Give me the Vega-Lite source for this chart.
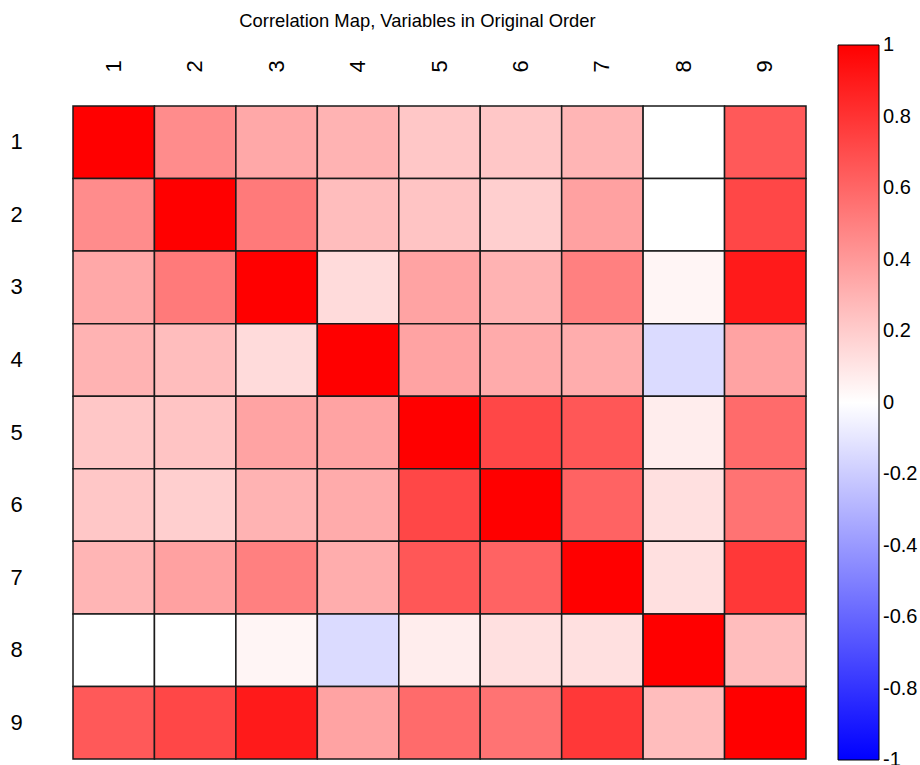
{
  "$schema": "https://vega.github.io/schema/vega-lite/v6.json",
  "width": 733,
  "height": 653,
  "autosize": {"type": "none"},
  "padding": {"left": 73, "top": 106, "right": 114, "bottom": 6},
  "background": "white",
  "title": {
    "text": "Correlation Map, Variables in Original Order",
    "fontSize": 18.4,
    "fontWeight": "normal",
    "font": "Liberation Sans",
    "color": "black",
    "frame": "group",
    "anchor": "middle",
    "baseline": "alphabetic",
    "offset": 0,
    "dx": -22
  },
  "data": {
    "values": [
      {"row": 1, "col": 1, "r": 1}, {"row": 1, "col": 2, "r": 0.45}, {"row": 1, "col": 3, "r": 0.34}, {"row": 1, "col": 4, "r": 0.30}, {"row": 1, "col": 5, "r": 0.22}, {"row": 1, "col": 6, "r": 0.22}, {"row": 1, "col": 7, "r": 0.29}, {"row": 1, "col": 8, "r": 0.0}, {"row": 1, "col": 9, "r": 0.65},
      {"row": 2, "col": 1, "r": 0.45}, {"row": 2, "col": 2, "r": 1}, {"row": 2, "col": 3, "r": 0.52}, {"row": 2, "col": 4, "r": 0.26}, {"row": 2, "col": 5, "r": 0.23}, {"row": 2, "col": 6, "r": 0.19}, {"row": 2, "col": 7, "r": 0.37}, {"row": 2, "col": 8, "r": 0.0}, {"row": 2, "col": 9, "r": 0.72},
      {"row": 3, "col": 1, "r": 0.34}, {"row": 3, "col": 2, "r": 0.52}, {"row": 3, "col": 3, "r": 1}, {"row": 3, "col": 4, "r": 0.14}, {"row": 3, "col": 5, "r": 0.36}, {"row": 3, "col": 6, "r": 0.30}, {"row": 3, "col": 7, "r": 0.50}, {"row": 3, "col": 8, "r": 0.04}, {"row": 3, "col": 9, "r": 0.90},
      {"row": 4, "col": 1, "r": 0.30}, {"row": 4, "col": 2, "r": 0.26}, {"row": 4, "col": 3, "r": 0.14}, {"row": 4, "col": 4, "r": 1}, {"row": 4, "col": 5, "r": 0.36}, {"row": 4, "col": 6, "r": 0.33}, {"row": 4, "col": 7, "r": 0.32}, {"row": 4, "col": 8, "r": -0.14}, {"row": 4, "col": 9, "r": 0.36},
      {"row": 5, "col": 1, "r": 0.22}, {"row": 5, "col": 2, "r": 0.23}, {"row": 5, "col": 3, "r": 0.36}, {"row": 5, "col": 4, "r": 0.36}, {"row": 5, "col": 5, "r": 1}, {"row": 5, "col": 6, "r": 0.72}, {"row": 5, "col": 7, "r": 0.66}, {"row": 5, "col": 8, "r": 0.07}, {"row": 5, "col": 9, "r": 0.58},
      {"row": 6, "col": 1, "r": 0.22}, {"row": 6, "col": 2, "r": 0.19}, {"row": 6, "col": 3, "r": 0.30}, {"row": 6, "col": 4, "r": 0.33}, {"row": 6, "col": 5, "r": 0.72}, {"row": 6, "col": 6, "r": 1}, {"row": 6, "col": 7, "r": 0.61}, {"row": 6, "col": 8, "r": 0.12}, {"row": 6, "col": 9, "r": 0.55},
      {"row": 7, "col": 1, "r": 0.29}, {"row": 7, "col": 2, "r": 0.37}, {"row": 7, "col": 3, "r": 0.50}, {"row": 7, "col": 4, "r": 0.32}, {"row": 7, "col": 5, "r": 0.66}, {"row": 7, "col": 6, "r": 0.61}, {"row": 7, "col": 7, "r": 1}, {"row": 7, "col": 8, "r": 0.12}, {"row": 7, "col": 9, "r": 0.78},
      {"row": 8, "col": 1, "r": 0.0}, {"row": 8, "col": 2, "r": 0.0}, {"row": 8, "col": 3, "r": 0.04}, {"row": 8, "col": 4, "r": -0.14}, {"row": 8, "col": 5, "r": 0.07}, {"row": 8, "col": 6, "r": 0.12}, {"row": 8, "col": 7, "r": 0.12}, {"row": 8, "col": 8, "r": 1}, {"row": 8, "col": 9, "r": 0.26},
      {"row": 9, "col": 1, "r": 0.65}, {"row": 9, "col": 2, "r": 0.72}, {"row": 9, "col": 3, "r": 0.90}, {"row": 9, "col": 4, "r": 0.36}, {"row": 9, "col": 5, "r": 0.58}, {"row": 9, "col": 6, "r": 0.55}, {"row": 9, "col": 7, "r": 0.78}, {"row": 9, "col": 8, "r": 0.26}, {"row": 9, "col": 9, "r": 1}
    ]
  },
  "mark": {"type": "rect", "stroke": "#1a1a1a", "strokeWidth": 1.5},
  "encoding": {
    "x": {
      "field": "col",
      "type": "ordinal",
      "scale": {"paddingInner": 0, "paddingOuter": 0},
      "axis": {
        "orient": "top",
        "labelAngle": -90,
        "labelPadding": 34,
        "ticks": false,
        "domain": false,
        "grid": false,
        "title": null,
        "labelFontSize": 22,
        "labelColor": "black",
        "labelFont": "Liberation Sans"
      }
    },
    "y": {
      "field": "row",
      "type": "ordinal",
      "scale": {"paddingInner": 0, "paddingOuter": 0},
      "axis": {
        "orient": "left",
        "labelPadding": 57,
        "labelAlign": "center",
        "ticks": false,
        "domain": false,
        "grid": false,
        "title": null,
        "labelFontSize": 22,
        "labelColor": "black",
        "labelFont": "Liberation Sans"
      }
    },
    "color": {
      "field": "r",
      "type": "quantitative",
      "scale": {"domain": [-1, 0, 1], "range": ["#0000ff", "#ffffff", "#ff0000"], "interpolate": "rgb"},
      "legend": {
        "orient": "none",
        "legendX": 765,
        "legendY": -61,
        "direction": "vertical",
        "gradientLength": 715,
        "gradientThickness": 41,
        "gradientStrokeColor": "black",
        "gradientStrokeWidth": 1,
        "title": null,
        "padding": 0,
        "values": [-1, -0.8, -0.6, -0.4, -0.2, 0, 0.2, 0.4, 0.6, 0.8, 1],
        "labelExpr": "'' + datum.value",
        "labelFontSize": 20,
        "labelFont": "Liberation Sans",
        "labelColor": "black",
        "labelOffset": 4,
        "labelOverlap": false,
        "encode": {"labels": {"update": {"baseline": {"value": "middle"}}}}
      }
    }
  },
  "config": {"view": {"stroke": null}, "font": "Liberation Sans"}
}
